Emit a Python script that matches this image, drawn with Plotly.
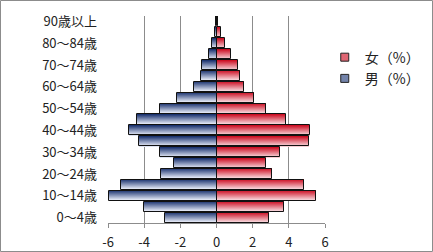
import plotly.graph_objects as go

ages = ["0～4歳", "5～9歳", "10～14歳", "15～19歳", "20～24歳", "25～29歳", "30～34歳",
        "35～39歳", "40～44歳", "45～49歳", "50～54歳", "55～59歳", "60～64歳", "65～69歳",
        "70～74歳", "75～79歳", "80～84歳", "85～89歳", "90歳以上"]
male = [-2.86, -3.99, -5.92, -5.30, -3.08, -2.36, -3.14, -4.30, -4.85, -4.41,
        -3.14, -2.20, -1.25, -0.87, -0.79, -0.42, -0.26, -0.11, -0.05]
female = [2.90, 3.75, 5.52, 4.83, 3.08, 2.75, 3.52, 5.13, 5.18, 3.86,
          2.75, 2.08, 1.53, 1.31, 1.20, 0.81, 0.48, 0.24, 0.07]
shown_labels = ["0～4歳", "10～14歳", "20～24歳", "30～34歳", "40～44歳",
                "50～54歳", "60～64歳", "70～74歳", "80～84歳", "90歳以上"]
x_ticks = [-6, -4, -2, 0, 2, 4, 6]

FONT = "Noto Sans CJK JP"
W, H = 433, 252
L, R, T, B = 108, 108, 16, 29
BAR_W = 0.92
N = 10


def mix(c1, c2, t):
    return "rgb(%d,%d,%d)" % tuple(round(a + (b - a) * t) for a, b in zip(c1, c2))


blue_dark, blue_light = (28, 52, 112), (222, 227, 242)
red_dark, red_light = (204, 16, 36), (246, 206, 212)

fig = go.Figure()
for vals, cd, cl in ((male, blue_dark, blue_light), (female, red_dark, red_light)):
    for i in range(N):
        t = i / (N - 1)
        fig.add_trace(go.Bar(
            x=vals, y=ages, orientation="h",
            width=BAR_W / N + 0.002,
            offset=BAR_W / 2 - (i + 1) * BAR_W / N,
            marker=dict(color=mix(cd, cl, t), line=dict(width=0)),
            showlegend=False, hoverinfo="skip"))
    fig.add_trace(go.Bar(
        x=vals, y=ages, orientation="h", width=BAR_W, offset=-BAR_W / 2,
        marker=dict(color="rgba(0,0,0,0)", line=dict(color="#111111", width=1)),
        showlegend=False, hoverinfo="skip"))

# legend entries
for name, cd, cl, grp in (("女（%）", red_dark, red_light, "f"), ("男（%）", blue_dark, blue_light, "m")):
    fig.add_trace(go.Scatter(
        x=[None], y=[None], mode="markers", name=name, legendgroup=grp,
        marker=dict(symbol="square", size=8, color=mix(cd, cl, 0.45),
                    line=dict(color="#222222", width=1))))

fig.update_layout(
    width=W, height=H,
    margin=dict(l=L, r=R, t=T, b=B, autoexpand=False),
    paper_bgcolor="white", plot_bgcolor="white",
    barmode="overlay", bargap=0,
    font=dict(family=FONT, size=13, color="#222222"),
    showlegend=True,
    legend=dict(xref="container", yref="container", x=0.75, y=0.835,
                xanchor="left", yanchor="top",
                font=dict(family=FONT, size=14, color="#222222"),
                tracegroupgap=0, itemwidth=30, bgcolor="rgba(0,0,0,0)"),
    xaxis=dict(range=[-6, 6], tickvals=x_ticks, ticktext=[str(v) for v in x_ticks],
               showgrid=True, gridcolor="#8c8c8c", gridwidth=1,
               zeroline=True, zerolinecolor="#111111", zerolinewidth=2,
               showline=True, linecolor="#8c8c8c", linewidth=1,
               ticks="outside", ticklen=4, tickcolor="#8c8c8c",
               ticklabelstandoff=3,
               tickfont=dict(family=FONT, size=13, color="#222222"),
               fixedrange=True, automargin=False),
    yaxis=dict(type="category", categoryorder="array", categoryarray=ages,
               range=[-0.5, 18.5], tickvals=shown_labels, ticktext=shown_labels,
               showgrid=False, zeroline=False, showline=False, ticks="",
               ticklabelstandoff=10,
               tickfont=dict(family=FONT, size=13, color="#222222"),
               fixedrange=True, automargin=False),
    shapes=[dict(type="rect", xref="paper", yref="paper",
                 x0=(0.5 - L) / (W - L - R), x1=(W - 0.5 - L) / (W - L - R),
                 y0=(H - B - (H - 0.5)) / (H - T - B), y1=(H - B - 0.5) / (H - T - B),
                 line=dict(color="#8c8c8c", width=1), layer="below")],
)

fig.write_html("out.html")
